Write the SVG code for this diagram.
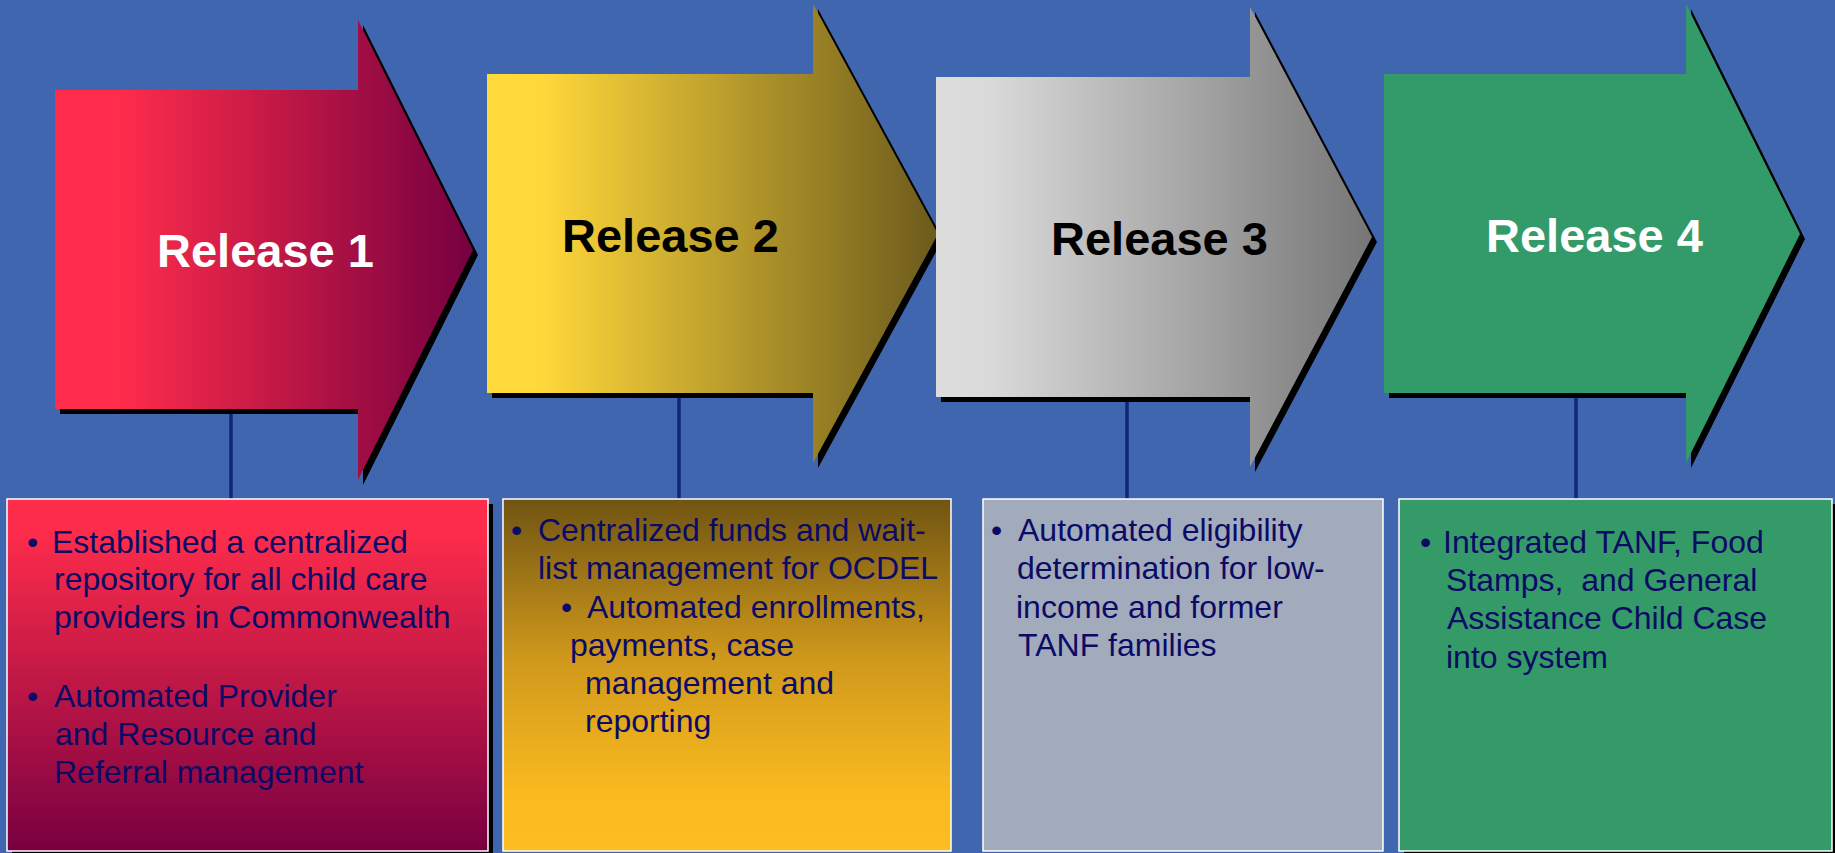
<svg xmlns="http://www.w3.org/2000/svg" width="1835" height="853" viewBox="0 0 1835 853">
  <defs>
    <linearGradient id="gA1" x1="0" y1="0" x2="1" y2="0">
      <stop offset="0" stop-color="#ff2c4b"/>
      <stop offset="0.15" stop-color="#ff2c4b"/>
      <stop offset="1" stop-color="#760040"/>
    </linearGradient>
    <linearGradient id="gA2" x1="0" y1="0" x2="1" y2="0">
      <stop offset="0" stop-color="#ffda3b"/>
      <stop offset="0.12" stop-color="#ffd83a"/>
      <stop offset="1" stop-color="#6c5a1c"/>
    </linearGradient>
    <linearGradient id="gA3" x1="0" y1="0" x2="1" y2="0">
      <stop offset="0" stop-color="#dddddd"/>
      <stop offset="0.12" stop-color="#dadada"/>
      <stop offset="1" stop-color="#767676"/>
    </linearGradient>
    <linearGradient id="gB1" x1="0" y1="0" x2="0" y2="1">
      <stop offset="0" stop-color="#ff2d4b"/>
      <stop offset="0.1" stop-color="#fd2c4b"/>
      <stop offset="1" stop-color="#780040"/>
    </linearGradient>
    <linearGradient id="gB2" x1="0" y1="0" x2="0" y2="1">
      <stop offset="0" stop-color="#705412"/>
      <stop offset="0.45" stop-color="#cf981c"/>
      <stop offset="0.85" stop-color="#fbbb1f"/>
      <stop offset="1" stop-color="#fdbd20"/>
    </linearGradient>
  </defs>
  <style>
    .title { font-family: "Liberation Sans", Arial, sans-serif; font-weight: bold; font-size: 47px; }
    .body { font-family: "Liberation Sans", Arial, sans-serif; font-size: 32px; fill: #0b0b66; white-space: pre; }
    .shadow { fill: #000000; }
    .box { stroke: #ffffff; stroke-width: 1.5; }
    .conn { stroke: #0c2878; stroke-width: 3.5; fill: none; }
  </style>

  <rect x="0" y="0" width="1835" height="853" fill="#4166b0"/>

  <g id="connectors">
    <line class="conn" x1="231" y1="410" x2="231" y2="499"/>
    <line class="conn" x1="679" y1="395" x2="679" y2="499"/>
    <line class="conn" x1="1127" y1="402" x2="1127" y2="499"/>
    <line class="conn" x1="1576" y1="395" x2="1576" y2="499"/>
  </g>

  <g id="release1">
    <polygon class="shadow" transform="translate(5,5)" points="55,90 358,90 358,20 473,250 358,480 358,409 55,409"/>
    <polygon fill="url(#gA1)" points="55,90 358,90 358,20 473,250 358,480 358,409 55,409"/>
    <text class="title" x="157" y="267" fill="#ffffff">Release 1</text>
  </g>

  <g id="release2">
    <polygon class="shadow" transform="translate(5,5)" points="487,74 813,74 813,4 938,234 813,463 813,393 487,393"/>
    <polygon fill="url(#gA2)" points="487,74 813,74 813,4 938,234 813,463 813,393 487,393"/>
    <text class="title" x="562" y="252" fill="#000000">Release 2</text>
  </g>

  <g id="release3">
    <polygon class="shadow" transform="translate(5,5)" points="936,77 1250,77 1250,7 1372,237 1250,467 1250,397 936,397"/>
    <polygon fill="url(#gA3)" points="936,77 1250,77 1250,7 1372,237 1250,467 1250,397 936,397"/>
    <text class="title" x="1051" y="255" fill="#000000">Release 3</text>
  </g>

  <g id="release4">
    <polygon class="shadow" transform="translate(5,5)" points="1384,74 1686,74 1686,4 1800,234 1686,463 1686,393 1384,393"/>
    <polygon fill="#339a69" points="1384,74 1686,74 1686,4 1800,234 1686,463 1686,393 1384,393"/>
    <text class="title" x="1486" y="252" fill="#ffffff">Release 4</text>
  </g>

  <g id="details1">
    <rect class="shadow" x="12" y="504" width="481" height="352"/>
    <rect class="box" x="7" y="499" width="481" height="352" fill="url(#gB1)"/>
    <text class="body" x="27" y="553">•</text>
    <text class="body" x="52" y="553">Established a centralized</text>
    <text class="body" x="54" y="590">repository for all child care</text>
    <text class="body" x="54" y="628">providers in Commonwealth</text>
    <text class="body" x="27" y="707">•</text>
    <text class="body" x="54" y="707">Automated Provider</text>
    <text class="body" x="55" y="745">and Resource and</text>
    <text class="body" x="54" y="783">Referral management</text>
  </g>

  <g id="details2">
    <rect class="box" x="503" y="499" width="448" height="352" fill="url(#gB2)"/>
    <text class="body" x="511" y="541">•</text>
    <text class="body" x="538" y="541">Centralized funds and wait-</text>
    <text class="body" x="538" y="579">list management for OCDEL</text>
    <text class="body" x="561" y="618">•</text>
    <text class="body" x="587" y="618">Automated enrollments,</text>
    <text class="body" x="570" y="656">payments, case</text>
    <text class="body" x="585" y="694">management and</text>
    <text class="body" x="585" y="732">reporting</text>
  </g>

  <g id="details3">
    <rect class="box" x="983" y="499" width="400" height="352" fill="#a2abbc"/>
    <text class="body" x="991" y="541">•</text>
    <text class="body" x="1018" y="541">Automated eligibility</text>
    <text class="body" x="1017" y="579">determination for low-</text>
    <text class="body" x="1016" y="618">income and former</text>
    <text class="body" x="1018" y="656">TANF families</text>
  </g>

  <g id="details4">
    <rect class="shadow" x="1404" y="504" width="433" height="352"/>
    <rect class="box" x="1399" y="499" width="433" height="352" fill="#349a68"/>
    <text class="body" x="1420" y="553">•</text>
    <text class="body" x="1443" y="553">Integrated TANF, Food</text>
    <text class="body" x="1446" y="591">Stamps,  and General</text>
    <text class="body" x="1447" y="629">Assistance Child Case</text>
    <text class="body" x="1446" y="668">into system</text>
  </g>
</svg>
